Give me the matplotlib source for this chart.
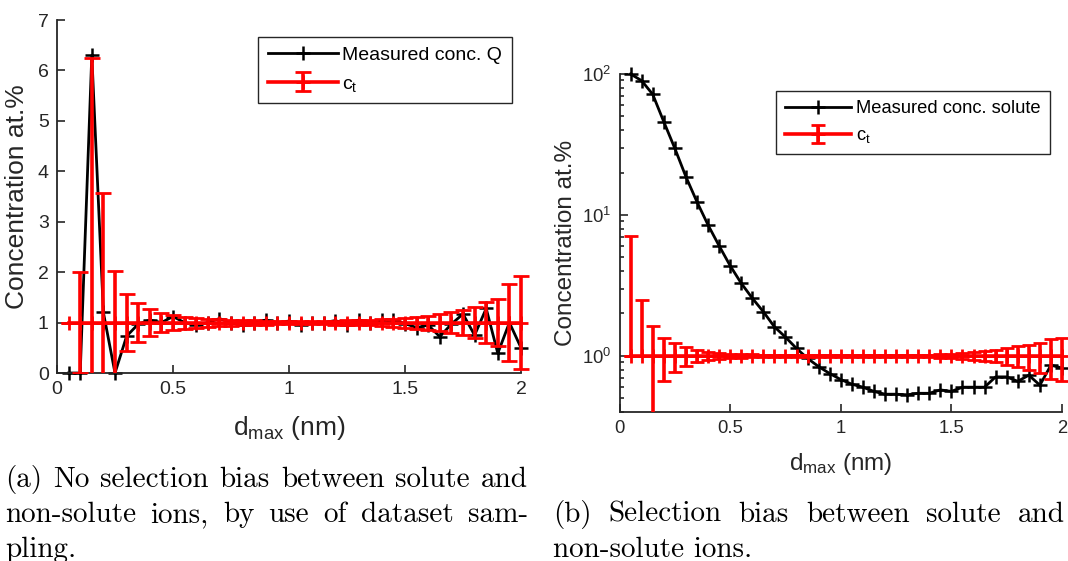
import numpy as np
import matplotlib
matplotlib.use('Agg')
import matplotlib.pyplot as plt
from matplotlib.ticker import LogLocator, LogFormatterMathtext, NullFormatter, FixedLocator
from matplotlib.transforms import IdentityTransform, Bbox, TransformedBbox

plt.rcParams['font.family'] = ['Liberation Sans', 'DejaVu Sans']
plt.rcParams['mathtext.fontset'] = 'custom'
plt.rcParams['mathtext.rm'] = 'Liberation Sans'
plt.rcParams['mathtext.it'] = 'Liberation Sans:italic'
plt.rcParams['mathtext.bf'] = 'Liberation Sans:bold'

# ---------------- data ----------------
d_max = [0.05, 0.10, 0.15, 0.20, 0.25, 0.30, 0.35, 0.40, 0.45, 0.50,
         0.55, 0.60, 0.65, 0.70, 0.75, 0.80, 0.85, 0.90, 0.95, 1.00,
         1.05, 1.10, 1.15, 1.20, 1.25, 1.30, 1.35, 1.40, 1.45, 1.50,
         1.55, 1.60, 1.65, 1.70, 1.75, 1.80, 1.85, 1.90, 1.95, 2.00]

# (a) measured concentration of Q
conc_q = [0.0, 0.0, 6.3, 1.2, 0.0, 0.73, 0.97, 1.05, 1.0, 1.12,
          1.0, 0.95, 1.0, 1.08, 1.0, 0.95, 1.0, 1.05, 1.0, 1.03,
          0.95, 1.0, 1.0, 1.04, 0.96, 1.05, 1.0, 1.05, 1.05, 0.98,
          0.9, 0.95, 0.72, 0.97, 1.17, 0.75, 1.28, 0.39, 1.0, 0.5]
ct_a = [1.0, 1.0, 1.0, 1.0, 1.0, 1.0, 1.0, 1.0, 1.0, 1.0,
        1.0, 1.0, 1.0, 1.0, 1.0, 1.0, 1.0, 1.0, 1.0, 1.0,
        1.0, 1.0, 1.0, 1.0, 1.0, 1.0, 1.0, 1.0, 1.0, 1.0,
        1.0, 1.0, 1.0, 1.0, 1.0, 1.0, 1.0, 1.0, 1.0, 1.0]
err_a = [0.0, 1.0, 5.25, 2.57, 1.03, 0.56, 0.38, 0.27, 0.19, 0.15,
         0.12, 0.10, 0.08, 0.07, 0.06, 0.05, 0.045, 0.04, 0.035, 0.03,
         0.03, 0.03, 0.035, 0.04, 0.045, 0.05, 0.055, 0.065, 0.08, 0.10,
         0.12, 0.14, 0.17, 0.21, 0.25, 0.30, 0.40, 0.47, 0.76, 0.92]

# (b) measured concentration of solute
conc_solute = [100, 89.7, 71.8, 45.9, 29.7, 18.7, 12.4, 8.5, 6.05, 4.37,
               3.28, 2.57, 2.06, 1.61, 1.36, 1.13, 0.96, 0.84, 0.75, 0.68,
               0.63, 0.60, 0.56, 0.535, 0.535, 0.53, 0.543, 0.543, 0.574, 0.56,
               0.60, 0.60, 0.60, 0.71, 0.71, 0.66, 0.73, 0.62, 0.86, 0.82]
ct_b = [1.0, 1.0, 1.0, 1.0, 1.0, 1.0, 1.0, 1.0, 1.0, 1.0,
        1.0, 1.0, 1.0, 1.0, 1.0, 1.0, 1.0, 1.0, 1.0, 1.0,
        1.0, 1.0, 1.0, 1.0, 1.0, 1.0, 1.0, 1.0, 1.0, 1.0,
        1.0, 1.0, 1.0, 1.0, 1.0, 1.0, 1.0, 1.0, 1.0, 1.0]
err_b = [6.1, 1.5, 0.63, 0.34, 0.23, 0.155, 0.10, 0.07, 0.05, 0.04,
         0.03, 0.025, 0.02, 0.018, 0.015, 0.015, 0.015, 0.015, 0.015, 0.015,
         0.015, 0.015, 0.015, 0.015, 0.015, 0.015, 0.018, 0.02, 0.03, 0.035,
         0.045, 0.06, 0.075, 0.10, 0.14, 0.17, 0.20, 0.24, 0.31, 0.34]

x_ticks = [0, 0.5, 1, 1.5, 2]
x_ticklabels = ['0', '0.5', '1', '1.5', '2']
y_ticks_a = [0, 1, 2, 3, 4, 5, 6, 7]

label_a = 'Measured conc. Q'
label_b = 'Measured conc. solute'
label_ct = r'c$_\mathrm{t}$'
xlab = r'd$_\mathrm{max}$ (nm)'
ylab = 'Concentration at.%'

cap_a = [['(a)', 'No', 'selection', 'bias', 'between', 'solute', 'and'],
         ['non-solute', 'ions,', 'by', 'use', 'of', 'dataset', 'sam-'],
         ['pling.']]
cap_b = [['(b)', 'Selection', 'bias', 'between', 'solute', 'and'],
         ['non-solute', 'ions.']]

# ---------------- figure ----------------
W, H = 1068, 561
fig = plt.figure(figsize=(W / 100, H / 100), dpi=100)
axc = '#262626'

def px_axes(l, r, t, b):
    return [l / W, 1 - b / H, (r - l) / W, (b - t) / H]

def style(ax, tick_fs):
    for s in ['top', 'right']:
        ax.spines[s].set_visible(False)
    for s in ['left', 'bottom']:
        ax.spines[s].set_color(axc)
        ax.spines[s].set_linewidth(1.3)
    ax.tick_params(which='both', direction='in', colors=axc, labelsize=tick_fs,
                   width=1.2, labelcolor=axc)
    ax.tick_params(which='major', length=5.5, pad=6)
    ax.tick_params(which='minor', length=3)

def legend(ax, anchor, fs):
    leg = ax.legend(loc='upper left', bbox_to_anchor=anchor, borderaxespad=0,
                    fontsize=fs, handlelength=3.6, handletextpad=0.25,
                    borderpad=0.5, labelspacing=0.55, fancybox=False, framealpha=1)
    leg.get_frame().set_edgecolor(axc)
    leg.get_frame().set_linewidth(1.0)
    return leg

def widen_clip(container, ax):
    # clip only vertically (like MATLAB), let the last bar/caps show fully
    cb = TransformedBbox(Bbox([[-0.1, 0.0], [1.1, 1.0]]), ax.transAxes)
    for art in container.get_children():
        art.set_clip_path(None)
        art.set_clip_box(cb)
        art.set_clip_on(True)

# (a)
ax1 = fig.add_axes(px_axes(57, 521, 20, 373))
ax1.plot(d_max, conc_q, '-', color='black', lw=2, marker='+', ms=10, mew=1.8,
         label=label_a, clip_on=False, zorder=2)
eb1 = ax1.errorbar(d_max, ct_a, yerr=err_a, color='red', lw=2.6, capsize=5.5, capthick=2.6,
                   marker='+', ms=10, mew=2, label=label_ct, zorder=3)
ax1.set_xlim(0, 2)
ax1.set_ylim(0, 7)
ax1.set_xticks(x_ticks)
ax1.set_xticklabels(x_ticklabels)
ax1.set_yticks(y_ticks_a)
style(ax1, 14)
ax1.set_xlabel(xlab, fontsize=19, color=axc)
ax1.set_ylabel(ylab, fontsize=19, color=axc)
ax1.xaxis.set_label_coords(0.5, -0.115)
ax1.yaxis.set_label_coords(-0.06, 0.5)
legend(ax1, (0.433, 0.952), 14)
widen_clip(eb1, ax1)

# (b)
ax2 = fig.add_axes(px_axes(619.5, 1062, 74, 412))
ax2.set_yscale('log')
ax2.plot(d_max, conc_solute, '-', color='black', lw=2, marker='+', ms=10, mew=1.8,
         label=label_b, clip_on=False, zorder=2)
ct_b_arr = np.array(ct_b)
err_b_arr = np.array(err_b)
# on a log axis the part of a bar that would fall below zero is not drawn
lower_b = np.where(ct_b_arr - err_b_arr > 0, err_b_arr, 0.0)
eb2 = ax2.errorbar(d_max, ct_b, yerr=[lower_b, err_b_arr], color='red', lw=2.6, capsize=5,
                   capthick=2.6, marker='+', ms=10, mew=2, label=label_ct, zorder=3)
ax2.set_xlim(0, 2)
ax2.set_ylim(0.4, 100)
ax2.set_xticks(x_ticks)
ax2.set_xticklabels(x_ticklabels)
ax2.yaxis.set_major_locator(FixedLocator([1, 10, 100]))
ax2.yaxis.set_major_formatter(LogFormatterMathtext())
ax2.yaxis.set_minor_locator(LogLocator(base=10, subs=np.arange(2, 10)))
ax2.yaxis.set_minor_formatter(NullFormatter())
style(ax2, 13.3)
ax2.set_xlabel(xlab, fontsize=17.5, color=axc)
ax2.set_ylabel(ylab, fontsize=17.5, color=axc)
ax2.xaxis.set_label_coords(0.5, -0.115)
ax2.yaxis.set_label_coords(-0.097, 0.5)
legend(ax2, (0.354, 0.95), 13.2)
widen_clip(eb2, ax2)

# ---------------- captions (justified, LaTeX-like) ----------------
CAP_FS = 21
renderer = fig.canvas.get_renderer()

def caption(lines, x0, x1, y_first, dy):
    for i, words in enumerate(lines):
        yb = H - (y_first + i * dy)
        last = (i == len(lines) - 1)
        if last:
            fig.text(x0, yb, ' '.join(words), fontsize=CAP_FS, family='cmr10',
                     transform=IdentityTransform(), va='baseline', ha='left')
            continue
        ts = [fig.text(0, yb, w, fontsize=CAP_FS, family='cmr10',
                       transform=IdentityTransform(), va='baseline', ha='left')
              for w in words]
        widths = [t.get_window_extent(renderer).width for t in ts]
        gap = (x1 - x0 - sum(widths)) / (len(words) - 1)
        xc = x0
        for t, w in zip(ts, widths):
            t.set_x(xc)
            xc += w + gap

caption(cap_a, 5, 528, 487, 35)
caption(cap_b, 553, 1065, 522, 35)

fig.savefig('out.png', dpi=100)
